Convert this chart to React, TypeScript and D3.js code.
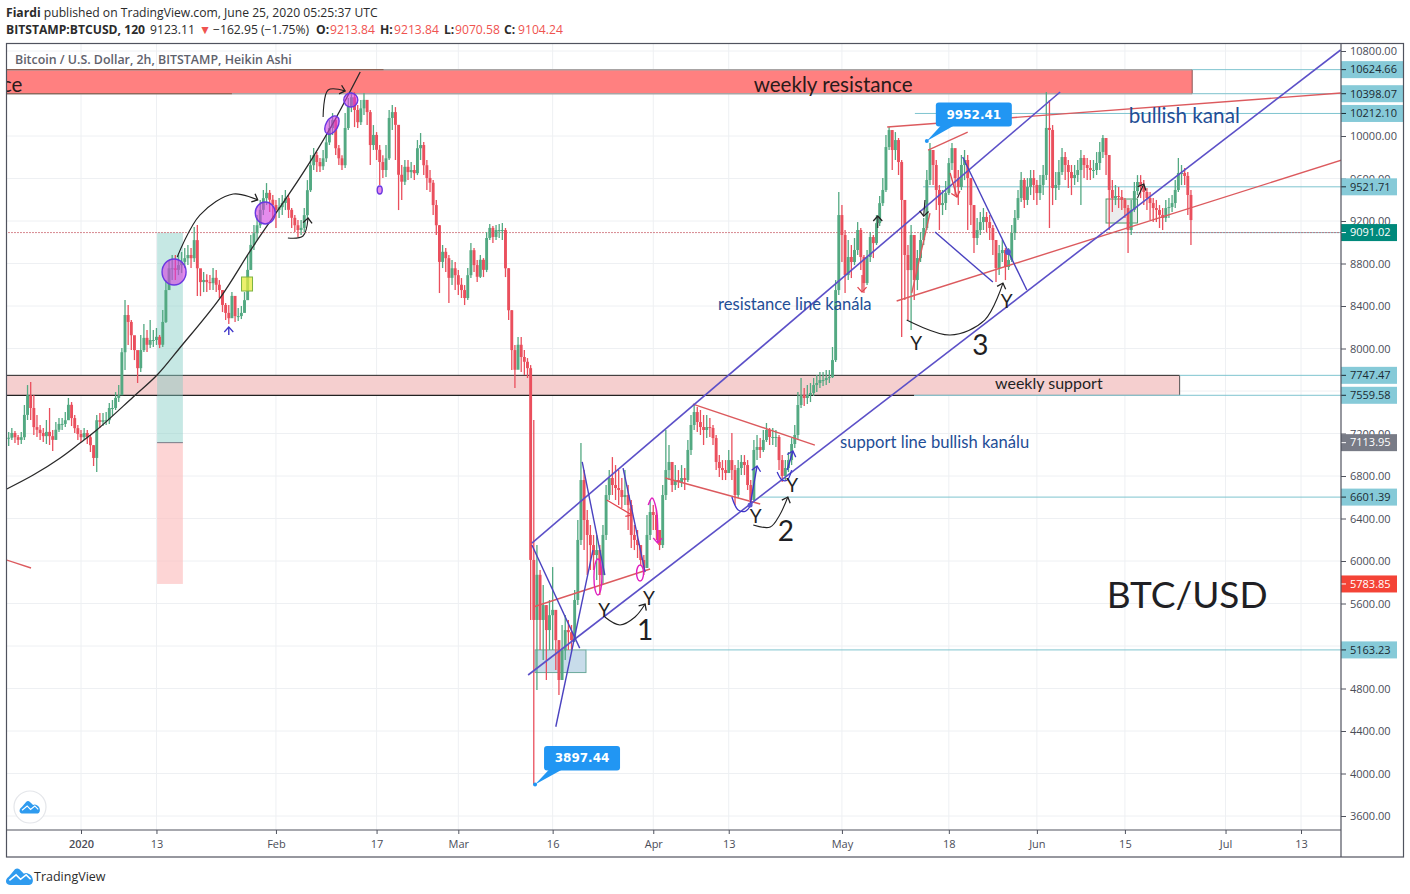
import React, { useEffect, useRef } from 'react';
import * as d3 from 'd3';

// 12h samples, starting 20 Dec 2019 12:00
const closes = [
  7160, 7205, 7165, 7140, 7165, 7375, 7560, 7440, 7260, 7235,
  7205, 7175, 7215, 7175, 7140, 7235, 7290, 7290, 7325, 7470,
  7345, 7250, 7195, 7165, 7205, 7165, 7090, 6970, 7325, 7310,
  7325, 7325, 7440, 7440, 7535, 7560, 7965, 8315, 8250, 8125,
  7985, 7815, 7985, 8100, 8035, 8080, 8080, 8110, 8035, 8250,
  8550, 8755, 8755, 8740, 8785, 8815, 8850, 8880, 8850, 9020,
  8755, 8625, 8645, 8625, 8615, 8665, 8600, 8550, 8410, 8335,
  8285, 8495, 8305, 8305, 8335, 8455, 8740, 8975, 9085, 9160,
  9305, 9415, 9465, 9400, 9350, 9305, 9330, 9370, 9415, 9305,
  9230, 9160, 9115, 9135, 9255, 9490, 9725, 9820, 9755, 9715,
  9790, 9940, 10075, 10150, 9885, 9790, 9725, 10075, 10275, 10365,
  10245, 10130, 10260, 10340, 10225, 9915, 10010, 9870, 9755, 9680,
  9790, 10170, 10225, 10105, 9635, 9570, 9710, 9660, 9680, 9650,
  9885, 9915, 9725, 9605, 9560, 9350, 9160, 8815, 8910, 8850,
  8665, 8755, 8690, 8600, 8550, 8475, 8690, 8925, 8785, 8675,
  8835, 8740, 9040, 9135, 9050, 9115, 9115, 9115, 8755, 8360,
  7985, 7800, 8035, 7920, 7875, 7815, 6010, 5445, 5870, 5445,
  5585, 5350, 5490, 5540, 5255, 4880, 5160, 5350, 5330, 5255,
  5633, 6198, 6762, 6386, 6245, 6150, 6056, 6103, 5868, 6245,
  6621, 6781, 6715, 6687, 6668, 6602, 6621, 6527, 6245, 6198,
  6150, 6009, 5934, 6245, 6461, 6433, 6292, 6150, 6621, 6856,
  6932, 6715, 6762, 6743, 6781, 6762, 7045, 7280, 7402, 7308,
  7261, 7233, 7261, 7252, 7157, 6932, 6875, 6856, 6828, 6950,
  6856, 6621, 6875, 6932, 6903, 6715, 6574, 7045, 7073, 7045,
  7139, 7233, 7167, 7167, 7167, 6950, 6800, 6875, 6950, 7101,
  7186, 7468, 7562, 7534, 7562, 7581, 7656, 7675, 7703, 7703,
  7722, 7731, 7891, 8550, 9256, 9068, 8691, 8861, 8814, 8927,
  9115, 8861, 8616, 8861, 9049, 8992, 9180, 9368, 9492, 9896,
  10056, 9868, 9962, 9755, 9398, 8880, 8738, 9068, 8645, 8851,
  9021, 9134, 9586, 9868, 9727, 9492, 9350, 9369, 9463, 9745,
  9886, 9604, 9520, 9727, 9774, 9604, 9350, 9040, 9115, 9190,
  9238, 9190, 9134, 9021, 8757, 8898, 8927, 8767, 8833, 9087,
  9228, 9416, 9586, 9398, 9520, 9604, 9539, 9463, 9539, 9633,
  10076, 10057, 9510, 9539, 9661, 9802, 9727, 9661, 9604, 9633,
  9680, 9793, 9727, 9699, 9680, 9680, 9746, 9850, 9981, 9821,
  9492, 9416, 9435, 9426, 9398, 9322, 9115, 9304, 9482, 9567,
  9520, 9473, 9416, 9369, 9322, 9304, 9257, 9228, 9322, 9332,
  9369, 9492, 9652, 9652, 9624, 9445, 9209,
];

const highs = [
  7214, 7252, 7224, 7186, 7214, 7468, 7656, 7685, 7562, 7374,
  7280, 7252, 7327, 7440, 7233, 7308, 7346, 7346, 7402, 7534,
  7496, 7374, 7280, 7233, 7252, 7233, 7186, 7092, 7374, 7393,
  7393, 7402, 7487, 7515, 7590, 7656, 8004, 8456, 8409, 8268,
  8098, 7967, 8127, 8230, 8174, 8268, 8174, 8193, 8127, 8362,
  8644, 8832, 8880, 8880, 8880, 8908, 8946, 8974, 8946, 9143,
  9162, 8738, 8720, 8700, 8691, 8757, 8738, 8644, 8550, 8428,
  8409, 8531, 8475, 8381, 8400, 8531, 8880, 9068, 9162, 9256,
  9398, 9492, 9557, 9492, 9444, 9398, 9416, 9444, 9492, 9444,
  9322, 9256, 9209, 9209, 9322, 9585, 9820, 9886, 9849, 9792,
  9868, 10009, 10150, 10216, 10169, 9915, 9820, 10216, 10357, 10413,
  10413, 10291, 10338, 10404, 10338, 10244, 10103, 10037, 9915, 9820,
  9915, 10244, 10291, 10272, 10103, 9727, 9774, 9774, 9755, 9727,
  9962, 10028, 9943, 9774, 9680, 9585, 9397, 9162, 8974, 8945,
  8880, 8833, 8814, 8738, 8663, 8597, 8757, 8992, 8945, 8833,
  8880, 8851, 9096, 9171, 9152, 9162, 9171, 9181, 9134, 8757,
  8362, 8033, 8108, 8108, 7986, 7910, 7844, 7327, 6150, 5915,
  5774, 5586, 5633, 5943, 5539, 5257, 5398, 5492, 5445, 5398,
  5727, 6386, 7110, 6856, 6480, 6339, 6245, 6245, 6150, 6339,
  6715, 6856, 6978, 6903, 6856, 6781, 6856, 6715, 6574, 6339,
  6292, 6150, 6056, 6433, 6574, 6527, 6480, 6292, 6715, 7233,
  7092, 6932, 6903, 6856, 6903, 6875, 7139, 7374, 7468, 7449,
  7421, 7374, 7374, 7346, 7280, 7186, 6997, 6950, 6950, 7045,
  7205, 6903, 6950, 6997, 6997, 6950, 6762, 7139, 7186, 7157,
  7233, 7299, 7252, 7252, 7233, 7186, 6997, 6950, 7026, 7157,
  7280, 7590, 7722, 7628, 7656, 7675, 7722, 7750, 7778, 7778,
  7797, 7797, 8014, 8644, 9472, 9350, 9115, 9021, 8974, 9040,
  9190, 9134, 8880, 8927, 9096, 9068, 9256, 9435, 9605, 10009,
  10084, 10056, 10037, 9981, 9774, 9398, 8974, 9162, 9068, 8927,
  9096, 9228, 9680, 9934, 9868, 9774, 9539, 9492, 9576, 9793,
  9934, 9868, 9680, 9821, 9868, 9821, 9604, 9350, 9228, 9285,
  9322, 9285, 9256, 9162, 9021, 8974, 9021, 8945, 8945, 9162,
  9303, 9491, 9661, 9604, 9604, 9680, 9680, 9585, 9632, 9727,
  10413, 10338, 10103, 9661, 9774, 9886, 9849, 9774, 9727, 9727,
  9774, 9868, 9821, 9793, 9774, 9774, 9849, 9943, 10009, 9962,
  9821, 9585, 9539, 9520, 9492, 9416, 9350, 9398, 9567, 9632,
  9632, 9585, 9510, 9473, 9416, 9398, 9350, 9322, 9398, 9416,
  9444, 9585, 9793, 9727, 9699, 9661, 9492,
];

const lows = [
  7082, 7139, 7110, 7092, 7101, 7139, 7327, 7327, 7186, 7167,
  7139, 7120, 7101, 7092, 7035, 7139, 7214, 7233, 7261, 7327,
  7270, 7205, 7139, 7120, 7139, 7101, 7026, 6894, 6838, 7252,
  7270, 7280, 7289, 7364, 7421, 7496, 7684, 7797, 8033, 7986,
  7891, 7675, 7778, 7967, 7967, 8004, 8014, 8033, 8004, 8014,
  8240, 8550, 8644, 8644, 8691, 8710, 8757, 8785, 8757, 8813,
  8493, 8493, 8531, 8531, 8550, 8550, 8531, 8475, 8343, 8268,
  8230, 8287, 8249, 8258, 8277, 8343, 8550, 8738, 8927, 9021,
  9134, 9256, 9350, 9285, 9228, 9134, 9228, 9256, 9303, 9228,
  9134, 9096, 9049, 9068, 9096, 9228, 9473, 9680, 9661, 9661,
  9680, 9755, 9915, 10009, 9821, 9727, 9680, 9699, 10056, 10225,
  10084, 10075, 10103, 10197, 10103, 9727, 9868, 9774, 9538, 9604,
  9613, 9774, 10056, 9774, 9303, 9397, 9538, 9585, 9604, 9585,
  9632, 9774, 9632, 9491, 9472, 9256, 9068, 8522, 8757, 8719,
  8428, 8597, 8550, 8503, 8475, 8409, 8456, 8663, 8719, 8625,
  8663, 8672, 8719, 9021, 8992, 9021, 9040, 9021, 8672, 8268,
  7797, 7628, 7816, 7778, 7750, 7722, 5445, 3897.44, 4786, 5163,
  5068, 4880, 5163, 5163, 4974, 4739, 4880, 5068, 5163, 5163,
  5238, 5586, 6150, 6103, 5868, 5915, 5915, 5821, 5680, 5774,
  6198, 6574, 6621, 6574, 6527, 6499, 6527, 6292, 6122, 6103,
  6028, 5962, 5868, 5934, 6198, 6292, 6198, 6103, 6122, 6574,
  6762, 6649, 6668, 6687, 6696, 6668, 6743, 6997, 7233, 7214,
  7186, 7092, 7157, 7167, 7092, 6856, 6790, 6762, 6762, 6837,
  6762, 6527, 6593, 6809, 6809, 6668, 6508, 6546, 6950, 6969,
  7026, 7120, 7092, 7092, 7073, 6856, 6743, 6762, 6837, 6903,
  7063, 7139, 7440, 7459, 7477, 7496, 7553, 7590, 7628, 7647,
  7656, 7675, 7722, 7873, 8503, 8815, 8522, 8644, 8663, 8785,
  8880, 8739, 8522, 8597, 8815, 8851, 8974, 9153, 9341, 9473,
  9868, 9680, 9774, 9633, 8108, 8456, 8268, 8174, 8456, 8550,
  8814, 8974, 9115, 9538, 9538, 9303, 9115, 9256, 9303, 9444,
  9680, 9444, 9350, 9492, 9585, 9115, 9162, 8898, 8974, 9068,
  9115, 9096, 9021, 8880, 8625, 8691, 8814, 8644, 8739, 8814,
  9021, 9209, 9379, 9322, 9350, 9444, 9398, 9350, 9398, 9444,
  9585, 9134, 9350, 9398, 9492, 9633, 9585, 9510, 9444, 9539,
  9567, 9350, 9604, 9585, 9585, 9604, 9633, 9680, 9793, 9633,
  9115, 9284, 9350, 9322, 9303, 9228, 8898, 9068, 9284, 9444,
  9416, 9350, 9303, 9209, 9190, 9190, 9134, 9115, 9190, 9228,
  9284, 9322, 9473, 9538, 9538, 9256, 8974,
];

const priceTicks = [3600, 4000, 4400, 4800, 5200, 5600, 6000, 6400, 6800, 7200, 7600, 8000, 8400, 8800, 9200, 9600, 10000, 10400, 10800];
// 5200 and 10400 sit fully behind the level labels, so they only get a grid line
const labelledTicks = priceTicks.filter(p => p !== 5200 && p !== 10400);
const timeTicks: [string, string][] = [
  ['2020-01-01', '2020'], ['2020-01-13', '13'], ['2020-02-01', 'Feb'], ['2020-02-17', '17'], ['2020-03-01', 'Mar'],
  ['2020-03-16', '16'], ['2020-04-01', 'Apr'], ['2020-04-13', '13'], ['2020-05-01', 'May'], ['2020-05-18', '18'],
  ['2020-06-01', 'Jun'], ['2020-06-15', '15'], ['2020-07-01', 'Jul'], ['2020-07-13', '13'],
];

// drawings are [days since 1 Jan 2020, price]
type Pt = [number, number];
const channelLines: Pt[][] = [
  [[71.7, 6169], [155.7, 10414]],
  [[71.1, 4927], [200.3, 10810]],
];
const redLines: Pt[][] = [
  [[71.9, 5567], [90.5, 5925]],
  [[97.3, 7477], [116.7, 7091]],
  [[92.9, 6781], [108, 6536]],
  [[129.7, 8447], [200.5, 9774]],
  [[128.2, 10085], [200.5, 10405]],
  [[134.7, 9868], [141, 10037]],
  [[-11.8, 6009], [-7.95, 5934]],
  [[132.1, 8522], [135, 9275]],
];
const waveLines: Pt[][] = [
  [[71.7, 6150], [79.3, 5180]],
  [[75.5, 4440], [81.4, 6103]],
  [[79.7, 6932], [83.3, 5868]],
  [[86.2, 6875], [89.7, 5896]],
  [[135.8, 9096], [145, 8625]],
  [[140.2, 9802], [150.4, 8550]],
];
const trendCurve: Pt[] = [[-11.8, 6678], [-7.6, 6809], [-3.3, 6970], [-0.16, 7110], [2.5, 7233], [8.3, 7544], [12.1, 7750], [15.7, 8005], [22.1, 8475], [27.3, 8955], [33.2, 9464], [36.9, 9802], [40.1, 10122], [44.4, 10602]];
const blackArcs: Pt[][] = [
  [[15.3, 8861], [18.9, 9256], [24.2, 9454], [28.1, 9398]],
  [[32.9, 9040], [35.3, 9059], [36.1, 9228]],
  [[38.5, 10179], [39.3, 10433], [42, 10424]],
  [[83.3, 5473], [85.7, 5398], [88.1, 5473], [89.7, 5595]],
  [[106.9, 6339], [109.6, 6320], [111.1, 6433], [112.4, 6602]],
  [[131.3, 8268], [138.2, 8127], [143.7, 8268], [146.6, 8616]],
  [[126.7, 9134], [126.7, 9247]],
  [[134.2, 9398], [134, 9246]],
  [[168, 9416], [169, 9548]],
];
const blueArrows: Pt[][] = [
  [[106.4, 6527], [107.5, 6894]],
  [[112.3, 6856], [113.2, 7035]],
  [[23.5, 8127], [23.5, 8202]],
];
const blueCurves: Pt[][] = [
  [[103.5, 6602], [104.5, 6480], [105.7, 6470], [106.7, 6546]],
  [[110.7, 6838], [111.5, 6762], [112.3, 6762], [113, 6856]],
];
const redArrows: Pt[][] = [
  [[83.6, 6574], [87.6, 6433]],
  [[124.2, 8691], [124.2, 8531]],
  [[138.2, 9652], [139.3, 9426]],
];
const pinkArrows: Pt[][] = [
  [[90.2, 6527], [90.8, 6593], [91.5, 6480], [91.7, 6169]],
];
const pinkRings: [number, number, number, number][] = [[82.2, 5850, 4, 18], [88.9, 5887, 3.5, 8]];
const purpleBlobs: [number, number, number, number, number][] = [
  [14.8, 8720, 12, 13, 0], [29.3, 9275, 10, 11, 0], [39.9, 10103, 6, 10, 30], [42.9, 10339, 7, 7, 0], [47.5, 9492, 2.5, 4, 0],
];

const PLOT = { left: 7, right: 1341, top: 44, bottom: 830 };
const FONT = 'Lato, "Open Sans", sans-serif';

export default function App() {
  const svgRef = useRef<SVGSVGElement>(null);

  useEffect(() => {
    if (!svgRef.current) return;
    d3.select(svgRef.current).selectAll('*').remove();

    const svg = d3.select(svgRef.current);
    const jan1 = new Date(Date.UTC(2020, 0, 1));
    const dayMs = 86400000;
    const date = (d: number) => new Date(jan1.getTime() + d * dayMs);

    const x = d3.scaleUtc().domain([jan1, date(194)]).range([81, 1301]);
    const y = d3.scaleLinear().domain([3600, 10000]).range([816, 136]);
    const pt = (p: Pt): [number, number] => [x(date(p[0])), y(p[1])];
    const line = d3.line<Pt>().x(d => pt(d)[0]).y(d => pt(d)[1]);
    const curve = d3.line<Pt>().x(d => pt(d)[0]).y(d => pt(d)[1]).curve(d3.curveCatmullRom.alpha(0.5));

    svg.append('rect').attr('width', 1410).attr('height', 894).attr('fill', '#fff');

    const defs = svg.append('defs');
    defs.append('clipPath').attr('id', 'plot').append('rect')
      .attr('x', PLOT.left).attr('y', PLOT.top).attr('width', PLOT.right - PLOT.left).attr('height', PLOT.bottom - PLOT.top);
    const arrowColors: Record<string, string> = { black: '#222', blue: '#3f35c9', red: '#e2454f', pink: '#e020c0' };
    Object.entries(arrowColors).forEach(([name, color]) => {
      defs.append('marker').attr('id', `arrow-${name}`).attr('markerUnits', 'userSpaceOnUse')
        .attr('markerWidth', 14).attr('markerHeight', 14).attr('viewBox', '-8 -7 14 14').attr('orient', 'auto')
        .append('path').attr('d', 'M-5,-4.5L0,0L-5,4.5').attr('fill', 'none').attr('stroke', color).attr('stroke-width', 1.3);
    });

    // header
    const head = svg.append('g').attr('font-family', '"Open Sans", sans-serif').attr('font-size', 12.15).attr('fill', '#2b2b2b');
    const h1 = head.append('text').attr('x', 6).attr('y', 16.5);
    h1.append('tspan').attr('font-weight', 700).text('Fiardi');
    h1.append('tspan').text(' published on TradingView.com, June 25, 2020 05:25:37 UTC');
    const h2y = 33.5;
    head.append('text').attr('x', 6).attr('y', h2y).attr('font-weight', 700).text('BITSTAMP:BTCUSD, 120');
    head.append('text').attr('x', 150).attr('y', h2y).text('9123.11');
    head.append('text').attr('x', 199).attr('y', h2y).attr('fill', '#ef5350').text('▼');
    head.append('text').attr('x', 213).attr('y', h2y).text('−162.95 (−1.75%)');
    ([['O:', '9213.84', 316, 330], ['H:', '9213.84', 380, 394], ['L:', '9070.58', 444, 455], ['C:', '9104.24', 504, 518]] as const).forEach(([k, v, kx, vx]) => {
      head.append('text').attr('x', kx).attr('y', h2y).attr('font-weight', 700).text(k);
      head.append('text').attr('x', vx).attr('y', h2y).attr('fill', '#ef5350').text(v);
    });

    // grid
    const grid = svg.append('g').attr('stroke', '#eef0f3').attr('stroke-width', 1);
    priceTicks.forEach(p => {
      grid.append('line').attr('x1', PLOT.left).attr('x2', PLOT.right).attr('y1', y(p)).attr('y2', y(p));
    });
    timeTicks.forEach(([t]) => {
      const tx = x(new Date(`${t}T00:00:00Z`));
      grid.append('line').attr('x1', tx).attr('x2', tx).attr('y1', PLOT.top).attr('y2', PLOT.bottom);
    });

    const plot = svg.append('g').attr('clip-path', 'url(#plot)');

    // zones
    const zone = (d0: number, d1: number, p0: number, p1: number, fill: string, stroke = 'none') =>
      plot.append('rect').attr('x', x(date(d0))).attr('width', x(date(d1)) - x(date(d0)))
        .attr('y', y(p0)).attr('height', y(p1) - y(p0)).attr('fill', fill).attr('stroke', stroke);
    const hline = (d0: number, d1: number, p: number, color: string, width = 1) =>
      plot.append('line').attr('x1', x(date(d0))).attr('x2', x(date(d1))).attr('y1', y(p)).attr('y2', y(p))
        .attr('stroke', color).attr('stroke-width', width);

    zone(-13, 176.7, 10624.66, 10398.07, '#ff8080');
    hline(-13, 176.7, 10398.07, '#a8a4a4', 1.5);
    hline(-13, 176.7, 10624.66, '#a8a4a4', 1.5);
    hline(-13, 48.1, 10624.66, '#8a5a4a', 1);
    hline(-13, 24, 10398.07, '#8a5a4a', 1);
    plot.append('line').attr('x1', x(date(176.7))).attr('x2', x(date(176.7))).attr('y1', y(10624.66)).attr('y2', y(10398.07)).attr('stroke', '#8a5a5a');

    zone(-13, 174.7, 7747.47, 7559.58, '#f5cfcf');
    plot.append('line').attr('x1', x(date(174.7))).attr('x2', x(date(174.7))).attr('y1', y(7747.47)).attr('y2', y(7559.58)).attr('stroke', '#555');
    hline(-13, 174.7, 7747.47, '#222', 1);
    hline(-13, 132.5, 7559.58, '#222', 1.2);
    hline(132.5, 174.7, 7559.58, '#9a9a9a', 1);

    // long position tool
    zone(12.1, 16.2, 9091.02, 7113.95, 'rgba(128,203,196,0.45)');
    zone(12.1, 16.2, 7113.95, 5783.85, 'rgba(252,190,190,0.65)');
    hline(12.1, 16.2, 7113.95, '#787b86', 1);

    zone(72.2, 80.3, 5163.23, 4950, '#c8dcea', '#6aa89a');
    zone(163, 168, 9407, 9181, '#ececec', '#4c9a6a');

    // levels
    const teal = '#7fc4cf';
    hline(176.7, 210, 10624.66, teal);
    hline(176.7, 210, 10398.07, teal);
    hline(132.6, 210, 10212.1, teal);
    hline(133.9, 210, 9521.71, teal);
    hline(174.7, 210, 7747.47, teal);
    hline(132.5, 210, 7559.58, teal);
    hline(108, 210, 6601.39, teal);
    hline(80.3, 210, 5163.23, teal);
    hline(163, 210, 9091.02, teal);
    hline(-13, 210, 9091.02, '#c9606a').attr('stroke-dasharray', '1.5,1.5');

    // candles
    const step = 0.5;
    const candles = closes.map((c, i) => ({
      d: -11.5 + i * step,
      o: i === 0 ? c : closes[i - 1],
      h: highs[i],
      l: lows[i],
      c,
    }));
    const candleColor = (k: { o: number; c: number }) => (k.c >= k.o ? '#53a982' : '#ea4f5d');
    const marks = plot.append('g');
    marks.selectAll('line').data(candles).enter().append('line')
      .attr('x1', k => x(date(k.d))).attr('x2', k => x(date(k.d)))
      .attr('y1', k => y(k.h)).attr('y2', k => y(k.l))
      .attr('stroke', candleColor).attr('stroke-width', 1.3);
    marks.selectAll('rect').data(candles).enter().append('rect')
      .attr('x', k => x(date(k.d)) - 1.45).attr('width', 2.9)
      .attr('y', k => y(Math.max(k.o, k.c)))
      .attr('height', k => Math.max(1, Math.abs(y(k.o) - y(k.c))))
      .attr('fill', candleColor);

    // drawings
    const draw = (data: Pt[][], gen: typeof line, color: string, width: number, arrow?: string) => {
      data.forEach(points => {
        const path = plot.append('path').attr('d', gen(points)).attr('fill', 'none').attr('stroke', color).attr('stroke-width', width);
        if (arrow) path.attr('marker-end', `url(#arrow-${arrow})`);
      });
    };
    draw(redLines, line, '#dc5a5e', 1.4);
    draw([trendCurve], curve, '#2a2a2a', 1.3);
    draw(channelLines, line, '#5c50c8', 1.6);
    draw(waveLines, line, '#4a42c0', 1.4);
    draw(blackArcs, curve, arrowColors.black, 1.1, 'black');
    draw(blueArrows, line, arrowColors.blue, 1.4, 'blue');
    draw(blueCurves, curve, arrowColors.blue, 1.3);
    draw(redArrows, line, arrowColors.red, 1.3, 'red');
    draw(pinkArrows, curve, arrowColors.pink, 1.5, 'pink');

    pinkRings.forEach(([d, p, rx, ry]) => {
      plot.append('ellipse').attr('cx', x(date(d))).attr('cy', y(p)).attr('rx', rx).attr('ry', ry)
        .attr('fill', 'none').attr('stroke', arrowColors.pink).attr('stroke-width', 1.4);
    });
    purpleBlobs.forEach(([d, p, rx, ry, rot]) => {
      const cx = x(date(d));
      const cy = y(p);
      plot.append('ellipse').attr('cx', cx).attr('cy', cy).attr('rx', rx).attr('ry', ry)
        .attr('transform', `rotate(${rot} ${cx} ${cy})`)
        .attr('fill', 'rgba(212,64,224,0.6)').attr('stroke', '#6a38e0').attr('stroke-width', 1.4);
    });
    const [sqX, sqY] = pt([26.4, 8607]);
    plot.append('rect').attr('x', sqX - 5.5).attr('y', sqY - 7).attr('width', 11).attr('height', 14)
      .attr('fill', 'rgba(230,235,60,0.75)').attr('stroke', '#7cb342');
    ([[106.4, 6527, 2.5], [147.4, 8908, 3]] as const).forEach(([d, p, r]) => {
      plot.append('circle').attr('cx', x(date(d))).attr('cy', y(p)).attr('r', r).attr('fill', '#5a55d0');
    });

    // annotation text
    const note = (d: number, p: number, text: string, size: number, fill: string, anchor = 'start') =>
      plot.append('text').attr('x', x(date(d))).attr('y', y(p)).attr('dy', '0.35em')
        .attr('font-family', FONT).attr('font-size', size).attr('fill', fill).attr('text-anchor', anchor).text(text);
    const ink = '#1f1f24';
    const navy = '#1f4e96';
    note(119.6, 10480, 'weekly resistance', 20.6, '#2a1a1a', 'middle');
    note(-9.3, 10480, 'ce', 20.6, '#2a1a1a', 'end');
    note(153.9, 7675, 'weekly support', 16, '#1f1f24', 'middle');
    note(101.3, 8419, 'resistance line kanála', 16.6, navy);
    note(120.7, 7120, 'support line bullish kanálu', 16.6, navy);
    note(166.6, 10188, 'bullish kanal', 20.7, navy);
    note(163.1, 5680, 'BTC/USD', 37, ink);
    ([[83.2, 5539], [90.3, 5652], [107.3, 6423], [113.1, 6715], [132.8, 8052], [147.2, 8447]] as const).forEach(([d, p]) => {
      note(d, p, 'Y', 19, ink, 'middle');
    });
    ([[89.7, 5351, '1'], [112.1, 6282, '2'], [143, 8033, '3']] as const).forEach(([d, p, t]) => {
      note(d, p, t, 28, ink, 'middle');
    });

    // price callouts
    const bubble = (d: number, p: number, dx: number, dy: number, w: number, h: number) => {
      const [ax, ay] = pt([d, p]);
      const bx = ax + dx;
      const by = ay + dy;
      const g = plot.append('g');
      g.append('path').attr('d', `M${ax},${ay}L${bx + 6},${by + h - 2}L${bx + 20},${by + h - 2}Z`).attr('fill', '#2196f3');
      g.append('rect').attr('x', bx).attr('y', by).attr('width', w).attr('height', h).attr('rx', 3).attr('fill', '#2196f3');
      g.append('circle').attr('cx', ax).attr('cy', ay).attr('r', 2).attr('fill', '#2196f3');
      g.append('text').attr('x', bx + w / 2).attr('y', by + h / 2).attr('dy', '0.35em').attr('text-anchor', 'middle')
        .attr('font-family', '"DejaVu Sans", sans-serif').attr('font-weight', 700).attr('font-size', 12).attr('fill', '#fff')
        .text(d3.format('.2f')(p));
    };
    bubble(72.2, 3897.44, 9, -38.5, 76, 24.5);
    bubble(134.5, 9952.41, 9, -38.5, 76, 24);

    // price axis
    const axisG = svg.append('g').attr('transform', `translate(${PLOT.right},0)`)
      .call(d3.axisRight(y).tickValues(labelledTicks).tickFormat(d => d3.format('.2f')(d as number)).tickSize(5).tickSizeOuter(0));
    axisG.select('.domain').remove();
    axisG.selectAll('line').attr('stroke', '#50535e');
    axisG.selectAll('text').attr('font-family', '"Open Sans", sans-serif').attr('font-size', 11).attr('fill', '#4a4d58').attr('x', 9);

    // price labels
    const priceLabels: [number, string, string, number][] = [
      [10624.66, '#86cad8', '#1b2a33', 62],
      [10398.07, '#86cad8', '#1b2a33', 62],
      [10212.1, '#86cad8', '#1b2a33', 62],
      [9521.71, '#86cad8', '#1b2a33', 56],
      [9091.02, '#00897b', '#ffffff', 56],
      [7747.47, '#86cad8', '#1b2a33', 56],
      [7559.58, '#86cad8', '#1b2a33', 56],
      [7113.95, '#787b86', '#ffffff', 56],
      [6601.39, '#86cad8', '#1b2a33', 56],
      [5783.85, '#f44336', '#ffffff', 56],
      [5163.23, '#86cad8', '#1b2a33', 56],
    ];
    priceLabels.forEach(([p, bg, fg, w]) => {
      svg.append('rect').attr('x', PLOT.right).attr('y', y(p) - 8.5).attr('width', w).attr('height', 17).attr('fill', bg);
      svg.append('line').attr('x1', PLOT.right).attr('x2', PLOT.right + 5).attr('y1', y(p)).attr('y2', y(p)).attr('stroke', fg === '#ffffff' ? '#ffffff' : '#1b2a33');
      svg.append('text').attr('x', PLOT.right + 9).attr('y', y(p)).attr('dy', '0.35em')
        .attr('font-family', '"Open Sans", sans-serif').attr('font-size', 11).attr('fill', fg).text(d3.format('.2f')(p));
    });

    // time axis
    const timeAxis = svg.append('g').attr('transform', `translate(0,${PLOT.bottom})`)
      .call(d3.axisBottom(x).tickValues(timeTicks.map(t => new Date(`${t[0]}T00:00:00Z`)))
        .tickFormat((_, i) => timeTicks[i][1]).tickSize(4).tickPadding(6).tickSizeOuter(0));
    timeAxis.select('.domain').remove();
    timeAxis.selectAll('line').attr('stroke', '#50535e');
    timeAxis.selectAll('text').attr('font-family', '"Open Sans", sans-serif').attr('font-size', 11).attr('fill', '#4a4d58');
    timeAxis.selectAll('text').filter((_, i) => i === 0).attr('font-weight', 600);

    // frame
    const frame = svg.append('g').attr('stroke', '#50535e').attr('fill', 'none').attr('stroke-width', 1.2);
    frame.append('rect').attr('x', 6.5).attr('y', 43.5).attr('width', 1397).attr('height', 813.5);
    frame.append('line').attr('x1', PLOT.right).attr('x2', PLOT.right).attr('y1', 43.5).attr('y2', 857);
    frame.append('line').attr('x1', 6.5).attr('x2', 1341).attr('y1', PLOT.bottom).attr('y2', PLOT.bottom);

    // title and logos
    svg.append('text').attr('x', 15).attr('y', 64).attr('font-family', '"Open Sans", sans-serif').attr('font-weight', 600)
      .attr('font-size', 12.4).attr('fill', '#5f626c').text('Bitcoin / U.S. Dollar, 2h, BITSTAMP, Heikin Ashi');
    const cloud = (g: d3.Selection<SVGGElement, unknown, null, undefined>) => {
      g.append('path').attr('fill', '#2f9bef')
        .attr('d', 'M0,13C0,10 2,9 3,8L8,2C9,1 11,1 12,2L16,6C17,5 19,5 20,6C23,7 24,10 24,12C24,15 22,16 20,16L4,16C2,16 0,15 0,13Z');
      g.append('path').attr('fill', 'none').attr('stroke', '#fff').attr('stroke-width', 1.4)
        .attr('d', 'M3,12L9,7L13,11L18,7L22,11');
    };
    svg.append('circle').attr('cx', 30).attr('cy', 807).attr('r', 16).attr('fill', '#fff').attr('stroke', '#e4e6ea').attr('stroke-width', 1.2);
    cloud(svg.append('g').attr('transform', 'translate(19.5,800) scale(0.85)'));
    cloud(svg.append('g').attr('transform', 'translate(6,867) scale(1.12)'));
    svg.append('text').attr('x', 34).attr('y', 880.5).attr('font-family', '"Open Sans", sans-serif').attr('font-size', 12.5)
      .attr('fill', '#2b2b2b').text('TradingView');
  }, []);

  return (
    <svg
      ref={svgRef}
      width={1410}
      height={894}
      style={{ position: 'absolute', top: 0, left: 0, display: 'block' }}
    />
  );
}
